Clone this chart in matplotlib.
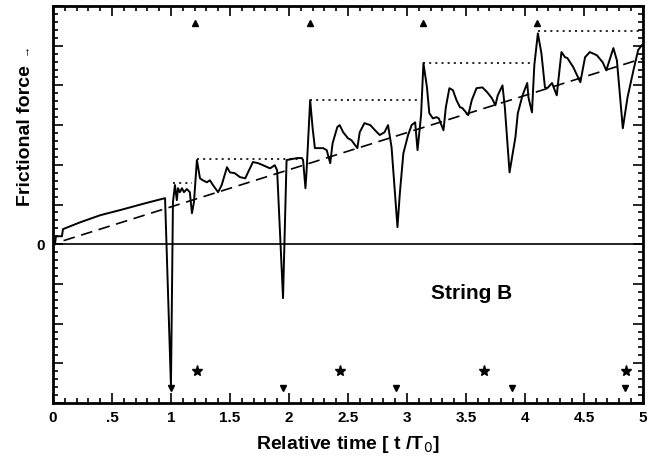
import numpy as np
import matplotlib.pyplot as plt
from matplotlib.ticker import MultipleLocator

plt.rcParams['font.family'] = ['Liberation Sans', 'DejaVu Sans']

# traced frictional force curve (t/T0, force)
t = [0.017, 0.025, 0.076, 0.085, 0.229, 0.40, 0.57, 0.78, 0.95, 1.0, 1.017, 1.034,
     1.05, 1.06, 1.076, 1.093, 1.11, 1.135, 1.16, 1.178, 1.195, 1.22, 1.246, 1.27,
     1.305, 1.33, 1.356, 1.40, 1.43, 1.475, 1.50, 1.54, 1.585, 1.63, 1.65, 1.695,
     1.74, 1.78, 1.84, 1.88, 1.90, 1.95, 1.98, 2.07, 2.11, 2.12, 2.14, 2.15, 2.18,
     2.20, 2.22, 2.25, 2.29, 2.32, 2.35, 2.37, 2.41, 2.43, 2.46, 2.50, 2.53, 2.58,
     2.60, 2.64, 2.69, 2.73, 2.77, 2.81, 2.84, 2.87, 2.92, 2.94, 2.97, 3.01, 3.04,
     3.07, 3.09, 3.12, 3.14, 3.17, 3.19, 3.22, 3.25, 3.27, 3.31, 3.33, 3.36, 3.39,
     3.42, 3.45, 3.47, 3.52, 3.55, 3.59, 3.64, 3.68, 3.72, 3.75, 3.77, 3.81, 3.83,
     3.87, 3.92, 3.94, 3.98, 4.02, 4.03, 4.06, 4.08, 4.11, 4.14, 4.17, 4.19, 4.23,
     4.27, 4.31, 4.34, 4.36, 4.41, 4.47, 4.51, 4.55, 4.61, 4.66, 4.69, 4.75, 4.78,
     4.83, 4.87, 4.92, 4.96, 4.99]
force = [0.0, 0.20, 0.20, 0.38, 0.55, 0.73, 0.86, 1.03, 1.16, -3.58, 1.06, 1.49,
         1.11, 1.41, 1.31, 1.41, 1.31, 1.39, 1.31, 0.78, 1.06, 2.12, 1.66, 1.61,
         1.56, 1.61, 1.49, 1.31, 1.49, 1.94, 1.81, 1.79, 1.69, 1.66, 1.79, 2.07,
         2.04, 1.99, 1.91, 1.99, 1.86, -1.36, 2.12, 2.17, 2.17, 2.12, 1.41, 1.86, 3.63,
         2.95, 2.42, 2.42, 2.42, 2.37, 2.04, 2.54, 2.95, 3.0, 2.82, 2.67, 2.62, 2.42,
         2.82, 3.05, 3.0, 2.87, 2.75, 2.82, 3.0, 2.44, 0.43, 1.28, 2.29, 2.75, 3.0,
         3.07, 2.37, 3.25, 4.56, 3.95, 3.30, 3.17, 3.2, 3.17, 2.87, 3.45, 3.93, 3.88,
         3.63, 3.45, 3.43, 3.25, 3.63, 3.93, 3.95, 3.83, 3.68, 3.50, 3.75, 4.0, 3.45,
         1.81, 2.70, 3.30, 3.75, 4.06, 3.70, 3.32, 4.51, 5.31, 4.81, 3.95, 3.93, 4.06,
         3.75, 4.84, 4.71, 4.69, 4.46, 4.08, 4.71, 4.84, 4.76, 4.58, 4.38, 4.94, 4.63,
         2.92, 3.70, 4.38, 4.89, 5.01]

# dotted peak levels: (start, end, level)
peak_start = [1.02, 1.22, 2.18, 3.14, 4.11]
peak_end = [1.18, 2.12, 3.10, 4.08, 5.0]
peak_level = [1.54, 2.14, 3.63, 4.56, 5.37]

trend_t = [0.09, 5.0]
trend_f = [0.09, 4.68]

up_t = [1.20, 2.18, 3.14, 4.10]
up_f = [5.57] * 4
down_t = [1.0, 1.95, 2.91, 3.89, 4.85]
down_f = [-3.63] * 5
star_t = [1.22, 2.43, 3.65, 4.86]
star_f = [-3.2] * 4

fig = plt.figure(figsize=(6.58, 4.63), dpi=100)
ax = fig.add_axes([0.0805, 0.1296, 0.8965, 0.8574])

ax.axhline(0, color='black', lw=1.2)
ax.plot(t, force, color='black', lw=1.4, solid_joinstyle='round')
ax.plot(trend_t, trend_f, color='black', lw=1.2, dashes=(7, 4))
for a, b, lv in zip(peak_start, peak_end, peak_level):
    ax.plot([a, b], [lv, lv], color='black', lw=1.2, dashes=(1.2, 2.5))

ax.plot(up_t, up_f, '^', color='black', ms=4, ls='none')
ax.plot(down_t, down_f, 'v', color='black', ms=4, ls='none')
ax.plot(star_t, star_f, '*', color='black', ms=8, ls='none')

ax.text(3.55, -1.23, 'String B', ha='center', va='center', fontsize=15, fontweight='bold')

ax.set_xlim(0, 5)
ax.set_ylim(-4, 6)
ax.xaxis.set_minor_locator(MultipleLocator(0.1))
ax.set_xticks([0, 0.5, 1, 1.5, 2, 2.5, 3, 3.5, 4, 4.5, 5])
ax.set_xticklabels(['0', '.5', '1', '1.5', '2', '2.5', '3', '3.5', '4', '4.5', '5'],
                   fontsize=11, fontweight='bold')
ax.yaxis.set_minor_locator(MultipleLocator(0.2))
ax.set_yticks(np.arange(-4, 7, 1))
ax.set_yticklabels(['0' if v == 0 else '' for v in range(-4, 7)], fontsize=11, fontweight='bold')

ax.tick_params(which='both', direction='in', top=True, right=True, width=1.2)
ax.tick_params(which='major', length=7, pad=6)
ax.tick_params(which='minor', length=3.5)
for s in ax.spines.values():
    s.set_linewidth(2)

ax.set_xlabel('Relative time [ t /T$_0$]', fontsize=14, fontweight='bold', labelpad=6)
fig.text(0.038, 0.708, 'Frictional force', rotation=90, ha='center', va='center',
         fontsize=14, fontweight='bold')
fig.text(0.037, 0.893, '\u2192', rotation=90, ha='center', va='center', fontsize=8,
         fontweight='bold')

fig.savefig('out.png', dpi=100)
